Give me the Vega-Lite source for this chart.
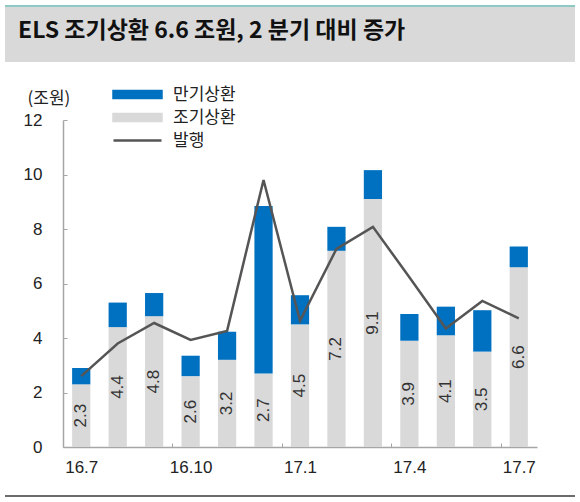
{
  "$schema": "https://vega.github.io/schema/vega-lite/v6.json",
  "padding": 5,
  "background": "white",
  "spacing": 8,
  "config": {
    "font": "Noto Sans CJK KR",
    "view": {"stroke": null}
  },
  "vconcat": [
    {
      "spacing": 0,
      "vconcat": [
        {
          "width": 570,
          "height": 2,
          "data": {"values": [{}]},
          "view": {"fill": "#8ec9c3", "stroke": null},
          "mark": {"type": "rect", "color": "#8ec9c3"},
          "encoding": {}
        },
        {
          "width": 570,
          "height": 55,
          "data": {"values": [{}]},
          "view": {"fill": "#d9d9d9", "stroke": null},
          "title": {
            "text": "ELS 조기상환 6.6 조원, 2 분기 대비 증가",
            "anchor": "start",
            "orient": "top",
            "offset": -47,
            "baseline": "middle",
            "dx": 13,
            "fontSize": 23,
            "fontWeight": "bold",
            "font": "Noto Sans CJK KR",
            "color": "#111111"
          },
          "mark": {"type": "rect", "color": "#d9d9d9"},
          "encoding": {}
        }
      ]
    },
    {
      "spacing": 20,
      "vconcat": [
        {
          "width": 532,
          "height": 377,
          "data": {
            "values": [
              {"월": "16.7", "조기상환": 2.3, "만기상환": 0.6, "발행": 2.6},
              {"월": "16.8", "조기상환": 4.4, "만기상환": 0.9, "발행": 3.8},
              {"월": "16.9", "조기상환": 4.8, "만기상환": 0.85, "발행": 4.55},
              {"월": "16.10", "조기상환": 2.6, "만기상환": 0.75, "발행": 3.93},
              {"월": "16.11", "조기상환": 3.2, "만기상환": 1.03, "발행": 4.26},
              {"월": "16.12", "조기상환": 2.7, "만기상환": 6.14, "발행": 9.8},
              {"월": "17.1", "조기상환": 4.5, "만기상환": 1.07, "발행": 4.63},
              {"월": "17.2", "조기상환": 7.2, "만기상환": 0.88, "발행": 7.27},
              {"월": "17.3", "조기상환": 9.1, "만기상환": 1.06, "발행": 8.08},
              {"월": "17.4", "조기상환": 3.9, "만기상환": 0.98, "발행": 6.23},
              {"월": "17.5", "조기상환": 4.1, "만기상환": 1.05, "발행": 4.35},
              {"월": "17.6", "조기상환": 3.5, "만기상환": 1.52, "발행": 5.36},
              {"월": "17.7", "조기상환": 6.6, "만기상환": 0.76, "발행": 4.72}
            ]
          },
          "resolve": {"scale": {"y": "independent"}},
          "layer": [
            {
              "transform": [{"fold": ["조기상환", "만기상환"], "as": ["구분", "값"]}],
              "mark": {"type": "bar"},
              "encoding": {
                "x": {
                  "field": "월",
                  "type": "nominal",
                  "sort": null,
                  "scale": {"paddingInner": 0.5, "paddingOuter": 0.25, "range": [58, 532]},
                  "axis": {
                    "title": null,
                    "values": ["16.7", "16.10", "17.1", "17.4", "17.7"],
                    "labelAngle": 0,
                    "labelFont": "Liberation Sans",
                    "labelFontSize": 17,
                    "labelColor": "#222222",
                    "labelPadding": 16,
                    "domainColor": "#a6a6a6",
                    "domainWidth": 1.5,
                    "tickColor": "#a6a6a6",
                    "tickSize": -4,
                    "tickOffset": -18.23,
                    "labelOffset": 18.23
                  }
                },
                "y": {
                  "field": "값",
                  "type": "quantitative",
                  "stack": "zero",
                  "scale": {"domain": [0, 12], "nice": false, "range": [377, 50]},
                  "axis": {
                    "offset": -58,
                    "title": "(조원)",
                    "titleAngle": 0,
                    "titleX": -36,
                    "titleY": 28,
                    "titleAlign": "left",
                    "titleBaseline": "middle",
                    "titleFontSize": 17,
                    "titleFontWeight": "normal",
                    "titleColor": "#222222",
                    "titleFont": "Noto Sans CJK KR",
                    "values": [0, 2, 4, 6, 8, 10, 12],
                    "grid": false,
                    "labelFont": "Liberation Sans",
                    "labelFontSize": 17,
                    "labelColor": "#222222",
                    "labelPadding": 25,
                    "domainColor": "#a6a6a6",
                    "domainWidth": 1.5,
                    "tickColor": "#a6a6a6",
                    "tickSize": -4
                  }
                },
                "color": {
                  "field": "구분",
                  "type": "nominal",
                  "scale": {
                    "domain": ["만기상환", "조기상환", "발행"],
                    "range": ["#0070c0", "#d9d9d9", "#555555"]
                  },
                  "legend": {
                    "title": null,
                    "orient": "none",
                    "legendX": 124,
                    "legendY": 81,
                    "padding": 0,
                    "symbolSize": 100,
                    "labelOffset": 27,
                    "labelFontSize": 17,
                    "labelColor": "#222222",
                    "labelFont": "Noto Sans CJK KR",
                    "rowPadding": 4,
                    "encode": {
                      "symbols": {
                        "update": {
                          "shape": {"signal": "datum.value === '발행' ? 'M-4.8,0H4.8' : 'M-4.8,-0.72H4.8V0.72H-4.8Z'"},
                          "size": {"value": 100},
                          "fill": {"signal": "datum.value === '발행' ? 'transparent' : (datum.value === '만기상환' ? '#0070c0' : '#d9d9d9')"},
                          "stroke": {"signal": "datum.value === '발행' ? '#555555' : 'transparent'"},
                          "strokeWidth": {"value": 2.5},
                          "opacity": {"value": 1}
                        }
                      }
                    }
                  }
                },
                "order": {"field": "구분", "sort": "descending"}
              }
            },
            {
              "mark": {"type": "line", "strokeWidth": 2.5},
              "encoding": {
                "x": {"field": "월", "type": "nominal", "sort": null},
                "y": {
                  "field": "발행",
                  "type": "quantitative",
                  "scale": {"domain": [0, 12], "nice": false, "range": [377, 50]},
                  "axis": null
                },
                "color": {"datum": "발행"}
              }
            },
            {
              "mark": {
                "type": "text",
                "angle": 270,
                "align": "center",
                "baseline": "middle",
                "font": "Liberation Sans",
                "fontSize": 17,
                "color": "#333333"
              },
              "encoding": {
                "x": {"field": "월", "type": "nominal", "sort": null},
                "y": {
                  "field": "조기상환",
                  "type": "quantitative",
                  "scale": {"domain": [0, 24], "nice": false, "range": [377, 50]},
                  "axis": null
                },
                "text": {"field": "조기상환", "type": "quantitative", "format": ".1f"}
              }
            }
          ]
        },
        {
          "width": 570,
          "height": 2,
          "data": {"values": [{}]},
          "view": {"fill": "#6b6b6b", "stroke": null},
          "mark": {"type": "rect", "color": "#6b6b6b"},
          "encoding": {}
        }
      ]
    }
  ]
}
